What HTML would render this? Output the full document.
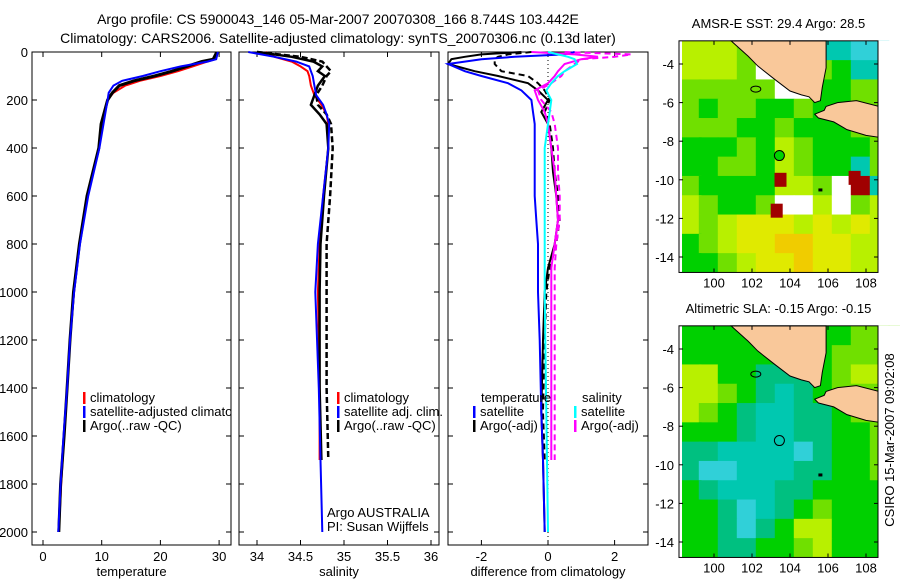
<!DOCTYPE html>
<html><head><meta charset="utf-8"><style>
html,body{margin:0;padding:0;background:#fff;}
svg{display:block;font-family:"Liberation Sans",sans-serif;}
text{font-size:13px;fill:#000;}
</style></head><body>
<svg id="fig" width="900" height="580" viewBox="0 0 900 580">
<defs><clipPath id="clip1"><rect x="32" y="52" width="199" height="493"/></clipPath></defs>
<text x="338" y="24" text-anchor="middle" style="font-size:14px">Argo profile: CS 5900043_146 05-Mar-2007 20070308_166 8.744S 103.442E</text>
<text x="338" y="43" text-anchor="middle" style="font-size:14px">Climatology: CARS2006. Satellite-adjusted climatology: synTS_20070306.nc (0.13d later)</text>
<g id="p1"></g>
<g id="p2"></g>
<g id="p3"></g>
<g id="m1"></g>
<g id="m2"></g>
<text transform="translate(894,440) rotate(-90)" text-anchor="middle">CSIRO 15-Mar-2007 09:02:08</text>
</svg>
<script>
// ---- temperature profiles ----
const tPres = [0,30,40,60,80,100,120,140,170,200,300,400,600,800,1000,1200,1400,1600,1800,2000];
const tClim = [29.5,29.3,28,25.5,23,20,16.5,14,12,11,10,9.5,7.6,6.2,5.3,4.6,4.1,3.6,3.1,2.7];
const tSat  = [29.8,29.5,28,23.5,20,17,13.5,12,11.2,11,10.3,9.6,7.7,6.3,5.3,4.6,4.1,3.5,3.0,2.6];
const tArgo = [29.6,29,27,24.5,22,19,15.5,13,11.8,11,9.9,9.5,7.5,6.2,5.2,4.6,4.1,3.6,3.0,2.7];
// ---- salinity profiles ----
const sPres = [0,20,40,60,80,100,140,180,220,260,300,400,600,800,1000,1400,1700,2000];
const sClim = [34.1,34.2,34.4,34.5,34.58,34.6,34.62,34.66,34.74,34.8,34.82,34.82,34.76,34.72,34.7,34.72,34.72,null];
const sSat  = [33.9,34.2,34.45,34.6,34.62,34.64,34.66,34.68,34.76,34.8,34.83,34.82,34.76,34.7,34.67,34.71,34.73,34.75];
const sArgo = [34.0,34.4,34.65,34.75,34.7,34.78,34.7,34.66,34.62,34.72,34.8,34.82,34.77,34.73,34.72,34.72,34.74,null];
const sArgoRaw = [34.0,34.5,34.75,34.8,34.85,34.8,34.75,34.68,34.7,34.8,34.85,34.87,34.84,34.8,34.8,34.8,34.82,null];
// ---- differences ----
const dPres = [0,10,20,30,50,80,100,130,160,200,250,300,400,500,600,700,800,900,1000,1200,1500,1700,2000];
const dTSat  = [0.8,0.5,-1.0,-2.0,-3.0,-2.5,-2.0,-1.2,-0.8,-0.5,-0.45,-0.4,-0.4,-0.4,-0.4,-0.35,-0.3,-0.3,-0.3,-0.25,-0.2,-0.15,-0.1];
const dTArgo = [-0.8,-2.0,-2.5,-2.9,-3.0,-2.2,-1.5,-0.6,-0.3,0,-0.2,0,0.1,0.15,0.25,0.3,0.2,0,-0.1,-0.15,-0.2,-0.15,-0.1];
const dTRaw  = [-0.5,-1.2,-1.5,-1.6,-1.6,-1.4,-0.6,-0.3,-0.1,0.05,-0.1,0.05,0.15,0.2,0.3,0.35,0.25,0.05,-0.05,-0.1,-0.15,-0.1,null];
const dSSat  = [0,0.3,0.6,0.8,0.87,0.5,0.3,0.1,-0.05,0.1,0.05,0,-0.1,-0.1,-0.1,-0.1,-0.1,-0.1,-0.1,-0.08,-0.05,-0.03,0];
const dSArgo = [-0.5,0.8,1.5,1.0,0.5,0.3,0.2,0,-0.4,-0.3,-0.1,0,0.1,0.2,0.25,0.3,0.2,0.1,0.1,0.1,0.1,0.1,null];
const dSRaw  = [0.5,2.5,2.0,1.0,0.8,0.5,0.4,0.1,-0.3,-0.2,0.1,0.2,0.3,0.3,0.35,0.35,0.25,0.2,0.2,0.2,0.2,0.2,null];
// ---- maps (1-degree cells, rows from north to south, columns from 98.2E) ----
const sstRows = ["yyylwlgttcc","yyylwwglgtt","lllllwwggll","lgllgglggll","lllgglgggll","ggglgylgggl","ggllgylggtl","lggggyylwrt","ylgglwwywly","ylyYYYyYyYy","glyYYooYYyy","gglyYYoYYyy"];
const slaRows = ["ggggggggglll","gggggmggllly","yyggmmmglyy","yylgmtmglll","ylgmttmmgll","gggmttmmggl","mmttttcmggl","mcctttmmggl","gmtttmmgggg","ggmctmglggg","ggmcmgyyggg","ggmmgglyggg"];
const sstHot = [[103.5,-10.0],[103.3,-11.6],[107.4,-9.9]];
const argoPos = [103.442,-8.744];

const NS="http://www.w3.org/2000/svg";
function el(parent,tag,attrs){const e=document.createElementNS(NS,tag);for(const k in attrs)e.setAttribute(k,attrs[k]);parent.appendChild(e);return e;}
function txt(parent,x,y,s,anchor){const t=el(parent,'text',{x:x,y:y,'text-anchor':anchor||'start'});t.textContent=s;return t;}

const yTop=52,yBot=545;
const yP = p => 52 + p*0.24;

function panel(g,x0,x1,xs,ticks,tickLbl,xlabel,showY){
  el(g,'rect',{x:x0,y:yTop,width:x1-x0,height:yBot-yTop,fill:'none',stroke:'#000','stroke-width':1});
  ticks.forEach((v,i)=>{const x=xs(v);
    el(g,'line',{x1:x,x2:x,y1:yBot,y2:yBot-5,stroke:'#000'});
    el(g,'line',{x1:x,x2:x,y1:yTop,y2:yTop+5,stroke:'#000'});
    const t=txt(g,x,561,tickLbl[i],'middle');
    
    
  });
  for(let p=0;p<=2000;p+=200){const y=yP(p);
    el(g,'line',{x1:x0,x2:x0+5,y1:y,y2:y,stroke:'#000'});
    el(g,'line',{x1:x1,x2:x1-5,y1:y,y2:y,stroke:'#000'});
    if(showY){const t=txt(g,x0-4,y+5,String(p),'end');
      
      }
  }
  const xl=txt(g,(x0+x1)/2,576,xlabel,'middle');
  
  
}
function series(g,pres,vals,xs,color,dash,name,w){
  const pts=[];pres.forEach((p,i)=>{if(vals[i]!==null)pts.push(xs(vals[i]).toFixed(1)+','+yP(p).toFixed(1));});
  const l=el(g,'polyline',{points:pts.join(' '),fill:'none',stroke:color,'stroke-width':w||2,'stroke-dasharray':dash||'none'});
  
  
}
function legend(g,x,y,color,label){
  el(g,'rect',{x:x,y:y-10,width:2.5,height:12,fill:color});
  const t=txt(g,x+7,y,label);
  
  
  return t;
}

// Panel 1
const p1=document.getElementById('p1');
const xT = v => 43 + v*5.87;
panel(p1,32,231,xT,[0,10,20,30],['0','10','20','30'],'temperature',true);
series(p1,tPres,tClim,xT,'#f00','', 'climatology-temp-line');
series(p1,tPres,tArgo,xT,'#000','', 'argo-temp-line',3);
series(p1,tPres,tSat,xT,'#00f','', 'satellite-temp-line');
legend(p1,83,402,'#f00','climatology');
legend(p1,83,416,'#00f','satellite-adjusted climatology').setAttribute('clip-path','url(#clip1)');
legend(p1,83,430,'#000','Argo(..raw -QC)');

// Panel 2
const p2=document.getElementById('p2');
const xS = v => 257 + (v-34)*87;
panel(p2,239,439,xS,[34,34.5,35,35.5,36],['34','34.5','35','35.5','36'],'salinity',false);
series(p2,sPres,sClim,xS,'#f00','', 'climatology-sal-line');
series(p2,sPres,sArgoRaw,xS,'#000','6,3', 'argo-raw-sal-line',2.5);
series(p2,sPres,sArgo,xS,'#000','', 'argo-sal-line',2.5);
series(p2,sPres,sSat,xS,'#00f','', 'satellite-sal-line');
legend(p2,337,402,'#f00','climatology');legend(p2,337,416,'#00f','satellite adj. clim.');legend(p2,337,430,'#000','Argo(..raw -QC)');
txt(p2,327,517,'Argo AUSTRALIA');txt(p2,327,531,'PI: Susan Wijffels');

// Panel 3
const p3=document.getElementById('p3');
const xD = v => 548 + v*33.3;
panel(p3,448,648,xD,[-2,0,2],['-2','0','2'],'difference from climatology',false);
el(p3,'line',{x1:xD(0),x2:xD(0),y1:yTop,y2:yBot,stroke:'#000','stroke-dasharray':'1,3'});
series(p3,dPres,dTRaw,xD,'#000','6,4','argo-raw-temp-diff');
series(p3,dPres,dTArgo,xD,'#000','','argo-temp-diff');
series(p3,dPres,dTSat,xD,'#00f','','satellite-temp-diff');
series(p3,dPres,dSRaw,xD,'#f0f','6,4','argo-raw-sal-diff');
series(p3,dPres,dSArgo,xD,'#f0f','','argo-sal-diff');
series(p3,dPres,dSSat,xD,'#0ff','','satellite-sal-diff');
txt(p3,481,402,'temperature');txt(p3,582,402,'salinity');
legend(p3,473,416,'#00f','satellite');legend(p3,473,430,'#000','Argo(-adj)');
legend(p3,574,416,'#0ff','satellite');legend(p3,574,430,'#f0f','Argo(-adj)');

// Maps
const colors={g:'#00d000',l:'#70e000',y:'#b8f000',Y:'#e0ea00',o:'#f0cc00',t:'#00c8b0',m:'#00c080',c:'#30d0d8',w:'#ffffff',r:'#a00000'};
const sumatra=[[100.9,-2.8],[101.8,-3.6],[102.3,-4.1],[103.2,-4.8],[104,-5.4],[104.6,-5.6],[105,-5.7],[105.3,-6.0],[105.6,-5.9],[105.7,-5.2],[105.9,-4.2],[105.9,-2.8]];
const java=[[105.9,-6.2],[106.5,-6.0],[107.5,-5.9],[108.7,-6.2],[108.7,-7.8],[108,-7.7],[107,-7.4],[106.3,-7.0],[105.5,-6.8],[105.3,-6.6],[105.8,-6.4]];
function map(id,top,rows,title){
  const g=document.getElementById(id);
  const X=lon=>714+(lon-100)*19, Y=lat=>top+23+(-4-lat)*19.3;
  const left=679,right=878,bot=Y(-14.8);
  rows.forEach((row,ri)=>{[...row].forEach((ch,ci)=>{
    const x0=X(98.2+ci), y0=Y(-2.8-ri);
    const c=el(g,'rect',{x:Math.max(x0,682),y:y0,width:19.5,height:19.8,fill:colors[ch]||'#0c0'});
    
    
  });});
  if(id==='m1'){sstHot.forEach(h=>{const r=el(g,'rect',{x:X(h[0])-6,y:Y(h[1])-7,width:12,height:14,fill:'#a00000'});
    
    });}
  [sumatra,java].forEach(poly=>{const p=el(g,'polygon',{points:poly.map(q=>X(q[0])+','+Y(q[1])).join(' '),fill:'#f9c89a',stroke:'#000','stroke-width':1});
    
    });
  el(g,'ellipse',{cx:X(102.2),cy:Y(-5.3),rx:5,ry:3,fill:'none',stroke:'#000'});
  el(g,'rect',{x:X(105.6)-2,y:Y(-10.5)-1,width:4,height:3,fill:'#000'});
  el(g,'rect',{x:right,y:top,width:22,height:bot-top+2,fill:'#fff'});
  el(g,'rect',{x:left,y:bot,width:right-left+2,height:8,fill:'#fff'});
  el(g,'rect',{x:left,y:top,width:3,height:bot-top,fill:'#fff'});
  el(g,'rect',{x:left,y:Y(-2.8),width:right-left,height:bot-Y(-2.8),fill:'none',stroke:'#000'});
  const ap=el(g,'circle',{cx:X(argoPos[0]),cy:Y(argoPos[1]),r:5,fill:id==='m1'?'#00d400':'none',stroke:'#000'});
  
  
  [100,102,104,106,108].forEach(lon=>{const x=X(lon);
    el(g,'line',{x1:x,x2:x,y1:bot,y2:bot-4,stroke:'#000'});el(g,'line',{x1:x,x2:x,y1:Y(-2.8),y2:Y(-2.8)+4,stroke:'#000'});
    const t=txt(g,x,bot+15,String(lon),'middle');
    
    });
  [-4,-6,-8,-10,-12,-14].forEach(lat=>{const y=Y(lat);
    el(g,'line',{x1:left,x2:left+4,y1:y,y2:y,stroke:'#000'});el(g,'line',{x1:right,x2:right-4,y1:y,y2:y,stroke:'#000'});
    const t=txt(g,left-5,y+5,String(lat),'end');
    
    });
  const tt=txt(g,(left+right)/2,top-13,title,'middle');
  
  
}
map('m1',41,sstRows,'AMSR-E SST: 29.4 Argo: 28.5');
map('m2',326,slaRows,'Altimetric SLA: -0.15 Argo: -0.15');
</script>
</body></html>
